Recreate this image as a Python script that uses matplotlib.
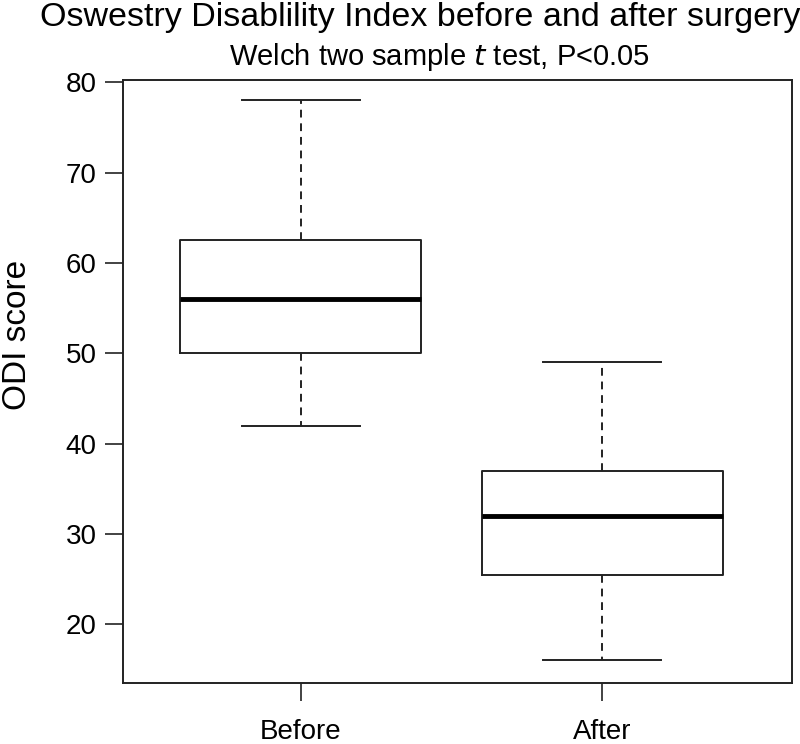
import matplotlib
matplotlib.use("Agg")
import matplotlib.pyplot as plt

# values
groups = ['Before', 'After']
whislo = [42, 16]
q1 = [50, 25.5]
med = [56, 32]
q3 = [62.5, 37]
whishi = [78, 49]

plt.rcParams['font.family'] = ['Liberation Sans', 'DejaVu Sans']

fig = plt.figure(figsize=(8, 7.44), dpi=100)
ax = fig.add_axes([0.154, 0.082, 0.836, 0.811])

stats = []
for i, g in enumerate(groups):
    stats.append(dict(label=g, whislo=whislo[i], q1=q1[i], med=med[i],
                      q3=q3[i], whishi=whishi[i], fliers=[]))

ax.bxp(stats, positions=[1, 2], widths=0.8, showfliers=False,
       boxprops=dict(color='#222222', linewidth=1.4),
       medianprops=dict(color='black', linewidth=3.5),
       whiskerprops=dict(color='#222222', linewidth=1.4, linestyle=(0, (4, 3))),
       capprops=dict(color='#222222', linewidth=1.4), capwidths=0.39)

ax.set_xlim(0.41, 2.63)
ax.set_ylim(13.5, 80.3)
ax.set_yticks([20, 30, 40, 50, 60, 70, 80])
ax.tick_params(axis='both', length=13, width=1.2, labelsize=20, pad=6, color='#222222')
ax.tick_params(axis='x', pad=13)
for s in ax.spines.values():
    s.set_linewidth(1.4)
    s.set_color('#222222')

fig.text(0.022, 0.55, 'ODI score', rotation=90, ha='center', va='center', fontsize=24)
fig.text(0.525, 0.977, 'Oswestry Disablility Index before and after surgery',
         ha='center', va='center', fontsize=24.5)
fig.text(0.549, 0.923, r'Welch two sample $\it{t}$ test, P<0.05',
         ha='center', va='center', fontsize=21)

fig.savefig('out.png', dpi=100)
